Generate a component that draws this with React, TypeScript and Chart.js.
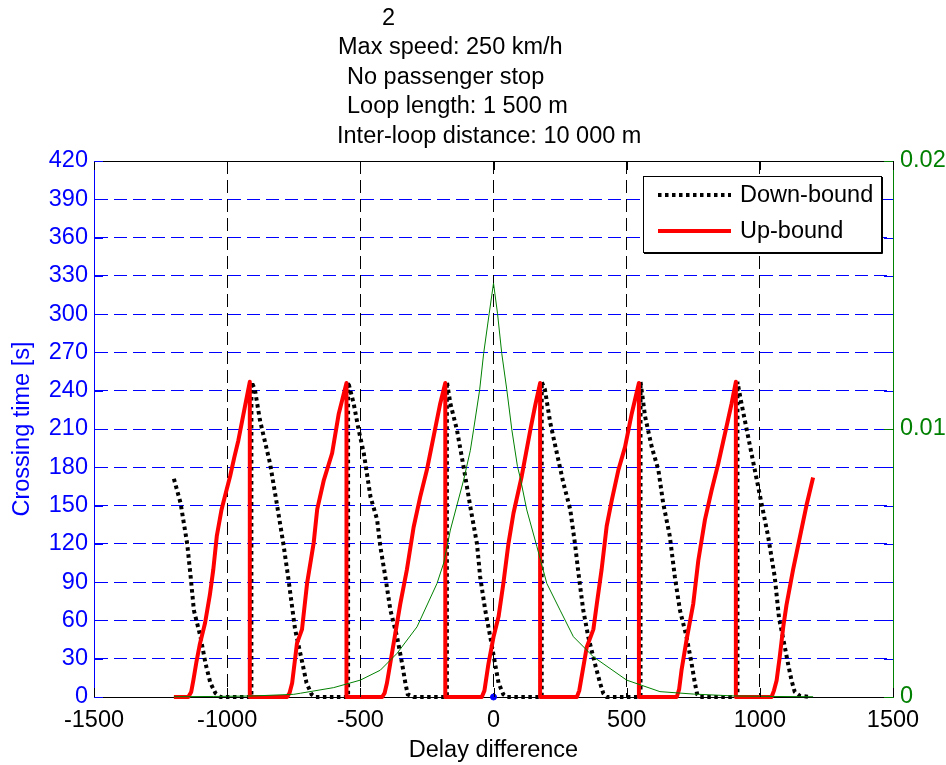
import React, { useEffect, useRef } from "react";
import { Chart, registerables } from "chart.js";

Chart.register(...registerables);

const TITLE_LINES = [
  "2",
  "Max speed: 250 km/h",
  "No passenger stop",
  "Loop length: 1 500 m",
  "Inter-loop distance: 10 000 m",
];
const X_LABEL = "Delay difference";
const Y_LABEL = "Crossing time [s]";
const SERIES_LABELS = ["Down-bound", "Up-bound"];

const X_TICKS = [-1500, -1000, -500, 0, 500, 1000, 1500];
const Y_TICKS = [0, 30, 60, 90, 120, 150, 180, 210, 240, 270, 300, 330, 360, 390, 420];
const Y2_TICKS = [0, 0.01, 0.02];

// Up-bound (red, solid)
const UP_X = [
  -1200, -1146, -1135, -1127, -1115, -1102, -1083, -1065, -1052, -1039, -1021, -1005, -989, -973, -958, -945, -933, -915, -915,
  -775, -766, -756, -738, -719, -700, -675, -662, -637, -606, -581, -552, -552,
  -418, -409, -400, -375, -350, -325, -300, -275, -250, -225, -200, -181, -181,
  -44, -34, -19, 0, 19, 37, 56, 75, 106, 138, 156, 175, 175,
  313, 322, 331, 350, 375, 388, 406, 425, 444, 469, 494, 519, 546, 546,
  688, 697, 706, 725, 750, 769, 794, 819, 844, 875, 894, 910, 910,
  1044, 1053, 1063, 1075, 1088, 1100, 1125, 1150, 1175, 1200,
];
const UP_Y = [
  0, 0, 4, 13, 28, 42, 58, 80, 100, 126, 147, 160, 173, 188, 201, 215, 228, 247, 0,
  0, 3, 11, 42, 53, 89, 121, 147, 170, 191, 222, 246, 0,
  0, 3, 11, 42, 73, 100, 133, 157, 178, 204, 230, 246, 0,
  0, 5, 26, 47, 63, 89, 120, 144, 173, 209, 228, 246, 0,
  0, 5, 16, 39, 53, 73, 100, 134, 154, 178, 196, 222, 246, 0,
  0, 6, 21, 45, 73, 107, 139, 162, 183, 212, 230, 247, 0,
  0, 5, 13, 32, 55, 72, 100, 125, 150, 172,
];

// Down-bound (black, dotted)
const DOWN_X = [
  -1200, -1175, -1150, -1137, -1125, -1100, -1081, -1063, -1044, -1025, -909, -909,
  -896, -877, -839, -814, -789, -771, -745, -720, -702, -683, -670, -546, -546,
  -525, -506, -487, -462, -437, -425, -406, -387, -362, -343, -331, -322, -300, -175, -175,
  -162, -137, -112, -87, -62, -50, -31, -12, 6, 19, 37, 50, 181, 181,
  193, 213, 238, 262, 288, 306, 319, 337, 356, 381, 400, 412, 425, 552, 552,
  569, 594, 619, 637, 662, 681, 700, 725, 744, 756, 765, 775, 916, 916,
  931, 956, 981, 1006, 1031, 1056, 1072, 1094, 1106, 1119, 1131, 1150, 1190,
];
const DOWN_Y = [
  171, 152, 120, 94, 68, 47, 26, 11, 3, 0, 0, 247,
  241, 217, 183, 152, 120, 94, 53, 29, 11, 2, 0, 0, 247,
  230, 209, 191, 157, 139, 118, 94, 68, 47, 26, 11, 2, 0, 0, 247,
  230, 209, 180, 149, 120, 94, 68, 47, 26, 11, 2, 0, 0, 247,
  241, 215, 191, 168, 147, 120, 97, 68, 47, 26, 11, 3, 0, 0, 247,
  220, 196, 178, 152, 126, 94, 68, 47, 26, 11, 2, 0, 0, 247,
  230, 204, 178, 152, 126, 94, 62, 39, 26, 13, 4, 1, 0,
];

// Distribution (green, right axis)
const DENS_X = [
  -1200, -1050, -900, -750, -725, -600, -500, -425, -362, -287, -212, -187, -162, -112, -87, -75, -52, -37, -16,
  0, 15, 31, 50, 69, 90, 100, 125, 163, 200, 250, 300, 375, 500, 625, 750, 900, 1050, 1200,
];
const DENS_Y = [
  0.00001, 0.00002, 0.00004, 0.0001, 0.00014, 0.00035, 0.00063, 0.001, 0.00163, 0.00262, 0.00424, 0.005, 0.00623, 0.0081, 0.0092, 0.00996, 0.01146, 0.01282, 0.01432,
  0.01544, 0.01432, 0.01282, 0.01146, 0.00996, 0.0086, 0.0082, 0.00698, 0.00561, 0.00424, 0.00324, 0.00225, 0.0015, 0.00063, 0.0002, 0.00011, 0.00004, 0.00002, 0.00001,
];

// small blue marker at the origin
const MARK_X = [0];
const MARK_Y = [0];

const FONT = '"Liberation Sans", Arial, Helvetica, sans-serif';
const FS = 23.5;
const BLUE = "#0000ff";
const GREEN = "#008000";

function pts(xs: number[], ys: number[]) {
  return xs.map((x, i) => ({ x, y: ys[i] }));
}

const decorPlugin = {
  id: "decor",
  afterDraw(chart: any) {
    const { ctx, chartArea: a, scales } = chart;
    ctx.save();
    ctx.setLineDash([]);
    // top frame
    ctx.strokeStyle = "#000";
    ctx.lineWidth = 1;
    ctx.beginPath();
    ctx.moveTo(a.left, a.top + 0.5);
    ctx.lineTo(a.right, a.top + 0.5);
    ctx.stroke();

    // inward tick marks
    const TL = 9;
    ctx.strokeStyle = "#000";
    scales.x.ticks.forEach((t: any) => {
      const px = Math.round(scales.x.getPixelForValue(t.value)) + 0.5;
      ctx.beginPath();
      ctx.moveTo(px, a.bottom);
      ctx.lineTo(px, a.bottom - TL);
      ctx.moveTo(px, a.top);
      ctx.lineTo(px, a.top + TL);
      ctx.stroke();
    });
    ctx.strokeStyle = BLUE;
    scales.y.ticks.forEach((t: any) => {
      const py = Math.round(scales.y.getPixelForValue(t.value)) + 0.5;
      ctx.beginPath();
      ctx.moveTo(a.left, py);
      ctx.lineTo(a.left + TL, py);
      ctx.moveTo(a.right - TL, py);
      ctx.lineTo(a.right, py);
      ctx.stroke();
    });
    ctx.strokeStyle = GREEN;
    scales.y2.ticks.forEach((t: any) => {
      const py = Math.round(scales.y2.getPixelForValue(t.value)) + 0.5;
      ctx.beginPath();
      ctx.moveTo(a.right - TL, py);
      ctx.lineTo(a.right, py);
      ctx.stroke();
    });

    // title lines
    ctx.fillStyle = "#000";
    ctx.font = `${FS}px ${FONT}`;
    ctx.textAlign = "left";
    ctx.textBaseline = "alphabetic";
    const TX = [382, 338, 347, 347, 337];
    TITLE_LINES.forEach((s, i) => ctx.fillText(s, TX[i], 24.5 + i * 29.6));

    // legend
    const lx0 = 643, ly0 = 176, lx1 = 881, ly1 = 252;
    ctx.fillStyle = "#fff";
    ctx.fillRect(lx0, ly0, lx1 - lx0, ly1 - ly0);
    ctx.strokeStyle = "#000";
    ctx.lineWidth = 1;
    ctx.strokeRect(lx0 + 0.5, ly0 + 0.5, lx1 - lx0, ly1 - ly0);
    ctx.beginPath();
    ctx.moveTo(lx1 + 1.5, ly0 + 1);
    ctx.lineTo(lx1 + 1.5, ly1 + 1.5);
    ctx.lineTo(lx0 + 1, ly1 + 1.5);
    ctx.stroke();
    const rows = [195, 231];
    [0, 1].forEach((di, i) => {
      const ds = chart.data.datasets[di];
      ctx.save();
      ctx.strokeStyle = ds.borderColor;
      ctx.lineWidth = ds.borderWidth;
      ctx.setLineDash(ds.borderDash || []);
      ctx.lineCap = "butt";
      ctx.beginPath();
      ctx.moveTo(658, rows[i]);
      ctx.lineTo(731, rows[i]);
      ctx.stroke();
      ctx.restore();
      ctx.fillStyle = "#000";
      ctx.font = `${FS}px ${FONT}`;
      ctx.textBaseline = "middle";
      ctx.fillText(ds.label, 740, rows[i] + 1);
    });
    ctx.restore();
  },
};

export default function App() {
  const ref = useRef<HTMLCanvasElement | null>(null);

  useEffect(() => {
    const canvas = ref.current;
    if (!canvas) return;
    const chart = new Chart(canvas, {
      type: "scatter",
      data: {
        datasets: [
          {
            label: SERIES_LABELS[0],
            data: pts(DOWN_X, DOWN_Y),
            showLine: true,
            borderColor: "#000",
            borderWidth: 4,
            borderDash: [3.5, 3.5],
            borderCapStyle: "butt",
            pointRadius: 0,
            yAxisID: "y",
            order: 3,
            clip: false,
          } as any,
          {
            label: SERIES_LABELS[1],
            data: pts(UP_X, UP_Y),
            showLine: true,
            borderColor: "#ff0000",
            borderWidth: 4,
            borderJoinStyle: "round",
            pointRadius: 0,
            yAxisID: "y",
            order: 2,
            clip: false,
          } as any,
          {
            label: "density",
            data: pts(DENS_X, DENS_Y),
            showLine: true,
            borderColor: GREEN,
            borderWidth: 1,
            pointRadius: 0,
            yAxisID: "y2",
            order: 1,
            clip: false,
          } as any,
          {
            label: "marker",
            data: pts(MARK_X, MARK_Y),
            showLine: false,
            pointRadius: 3,
            pointBackgroundColor: BLUE,
            pointBorderColor: BLUE,
            yAxisID: "y",
            order: 0,
            clip: false,
          } as any,
        ],
      },
      options: {
        animation: false,
        responsive: false,
        devicePixelRatio: 1,
        layout: { padding: { top: 161, left: 0, right: 0, bottom: 0 } },
        plugins: {
          legend: { display: false },
          tooltip: { enabled: false },
          title: { display: false },
        },
        scales: {
          x: {
            type: "linear",
            position: "bottom",
            min: -1500,
            max: 1500,
            afterBuildTicks: (s: any) => {
              s.ticks = X_TICKS.map((v) => ({ value: v }));
            },
            afterFit: (s: any) => {
              s.height = 68;
            },
            ticks: {
              color: "#000",
              font: { family: FONT, size: FS },
              padding: 9,
              maxRotation: 0,
              autoSkip: false,
              callback: (v: any) => String(v),
            },
            grid: {
              color: (c: any) => (c.tick && c.tick.value === -1500 ? "rgba(0,0,0,0)" : "#000"),
              lineWidth: 1,
              drawTicks: false,
            },
            border: { color: "#000", width: 1, dash: [13, 6] },
            title: {
              display: true,
              text: X_LABEL,
              color: "#000",
              font: { family: FONT, size: FS },
              padding: { top: 0, bottom: 0 },
            },
          },
          y: {
            type: "linear",
            position: "left",
            min: 0,
            max: 420,
            afterBuildTicks: (s: any) => {
              s.ticks = Y_TICKS.map((v) => ({ value: v }));
            },
            afterFit: (s: any) => {
              s.width = 94;
            },
            ticks: {
              color: BLUE,
              font: { family: FONT, size: FS },
              padding: 6,
              autoSkip: false,
              callback: (v: any) => String(v),
            },
            grid: { color: BLUE, lineWidth: 1, drawTicks: false },
            border: { color: BLUE, width: 1, dash: [13, 6] },
            title: {
              display: true,
              text: Y_LABEL,
              color: BLUE,
              font: { family: FONT, size: FS },
              padding: { top: 8, bottom: 0 },
            },
          },
          y2: {
            type: "linear",
            position: "right",
            min: 0,
            max: 0.02,
            afterBuildTicks: (s: any) => {
              s.ticks = Y2_TICKS.map((v) => ({ value: v }));
            },
            afterFit: (s: any) => {
              s.width = 53;
            },
            ticks: {
              color: GREEN,
              font: { family: FONT, size: FS },
              padding: 7,
              autoSkip: false,
              callback: (v: any) => String(v),
            },
            grid: { display: false, drawOnChartArea: false, drawTicks: false },
            border: { color: GREEN, width: 1 },
          },
        },
      },
      plugins: [decorPlugin],
    } as any);
    return () => chart.destroy();
  }, []);

  return (
    <div style={{ position: "fixed", left: 0, top: 0, width: 946, height: 765, background: "#fff" }}>
      <canvas ref={ref} width={946} height={765} style={{ width: 946, height: 765, display: "block" }} />
    </div>
  );
}
